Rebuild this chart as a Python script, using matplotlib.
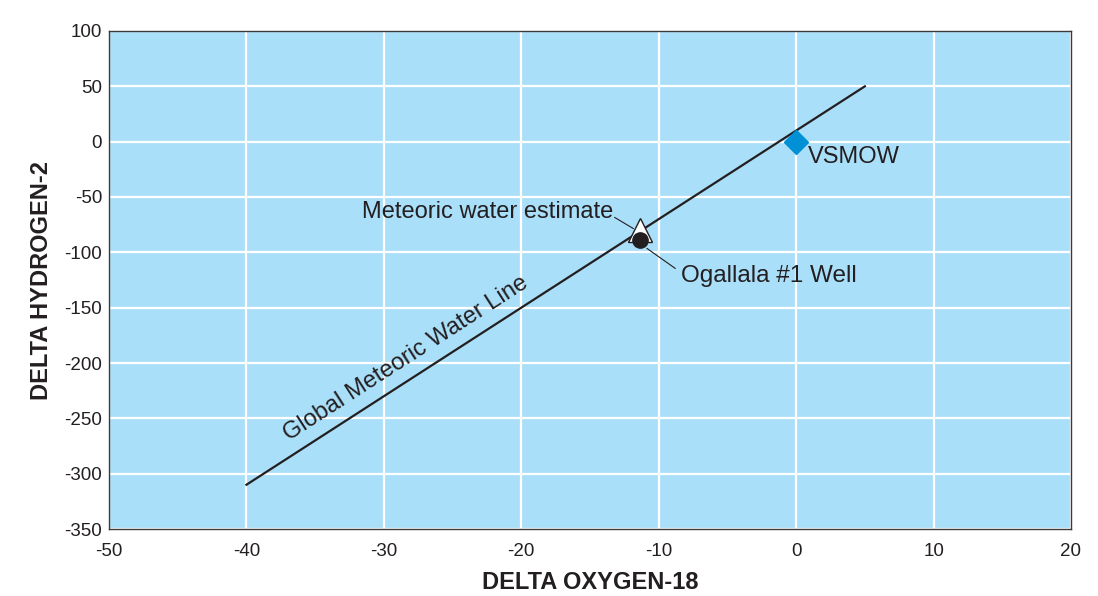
import numpy as np
import matplotlib.pyplot as plt

plt.rcParams['font.family'] = ['Liberation Sans', 'DejaVu Sans']
plt.rcParams['axes.unicode_minus'] = False

# global meteoric water line end points (dD = 8 * d18O + 10)
gmwl_x = [-40, 5]
gmwl_y = [-310, 50]

# sample points
vsmow = (0, 0)
meteoric_estimate = (-11.35, -80)
ogallala_well = (-11.35, -89)

x_ticks = [-50, -40, -30, -20, -10, 0, 10, 20]
y_ticks = [100, 50, 0, -50, -100, -150, -200, -250, -300, -350]

ink = '#231f20'

fig = plt.figure(figsize=(10.98, 5.96), dpi=100)
ax = fig.add_axes([0.0993, 0.1124, 0.8761, 0.8356])
ax.set_facecolor('#aadff9')

ax.set_xlim(-50, 20)
ax.set_ylim(-350, 100)
ax.set_xticks(x_ticks)
ax.set_yticks(y_ticks)
ax.grid(True, color='white', linewidth=1.6)
ax.set_axisbelow(True)
ax.tick_params(length=0, labelsize=13.5, colors=ink)
ax.tick_params(axis='x', pad=10)
ax.tick_params(axis='y', pad=5)
for s in ax.spines.values():
    s.set_color('#3a3a3a')
    s.set_linewidth(1.0)

ax.plot(gmwl_x, gmwl_y, color=ink, linewidth=1.6, zorder=3)

# leader lines from labels to the two samples
ax.plot([-13.2, -11.85], [-68.5, -78.5], color=ink, linewidth=0.8, zorder=3)
ax.plot([-10.85, -8.8], [-96.5, -114.5], color=ink, linewidth=0.8, zorder=3)

ax.plot(*vsmow, marker='D', color='#0090d6', markersize=12.5, zorder=4)
ax.plot(*meteoric_estimate, marker='^', markerfacecolor='white',
        markeredgecolor=ink, markersize=17, markeredgewidth=1.0, zorder=4)
ax.plot(*ogallala_well, marker='o', color=ink, markersize=11, zorder=5)

ax.text(0.85, -14, 'VSMOW', fontsize=17, color=ink, va='center', ha='left')
ax.text(-13.3, -64, 'Meteoric water estimate', fontsize=17, color=ink,
        ha='right', va='center')
ax.text(-8.4, -121, 'Ogallala #1 Well', fontsize=17.5, color=ink,
        ha='left', va='center')

# label runs parallel to the line
p0 = ax.transData.transform((gmwl_x[0], gmwl_y[0]))
p1 = ax.transData.transform((gmwl_x[1], gmwl_y[1]))
angle = np.degrees(np.arctan2(p1[1] - p0[1], p1[0] - p0[0]))
ax.text(-28.4, -196, 'Global Meteoric Water Line', fontsize=17, color=ink,
        rotation=angle, rotation_mode='anchor', ha='center', va='center')

ax.set_xlabel('DELTA OXYGEN-18', fontsize=17, fontweight='bold', color=ink, labelpad=8)
ax.set_ylabel('DELTA HYDROGEN-2', fontsize=17, fontweight='bold', color=ink, labelpad=8)

fig.savefig('out.png', dpi=100)
